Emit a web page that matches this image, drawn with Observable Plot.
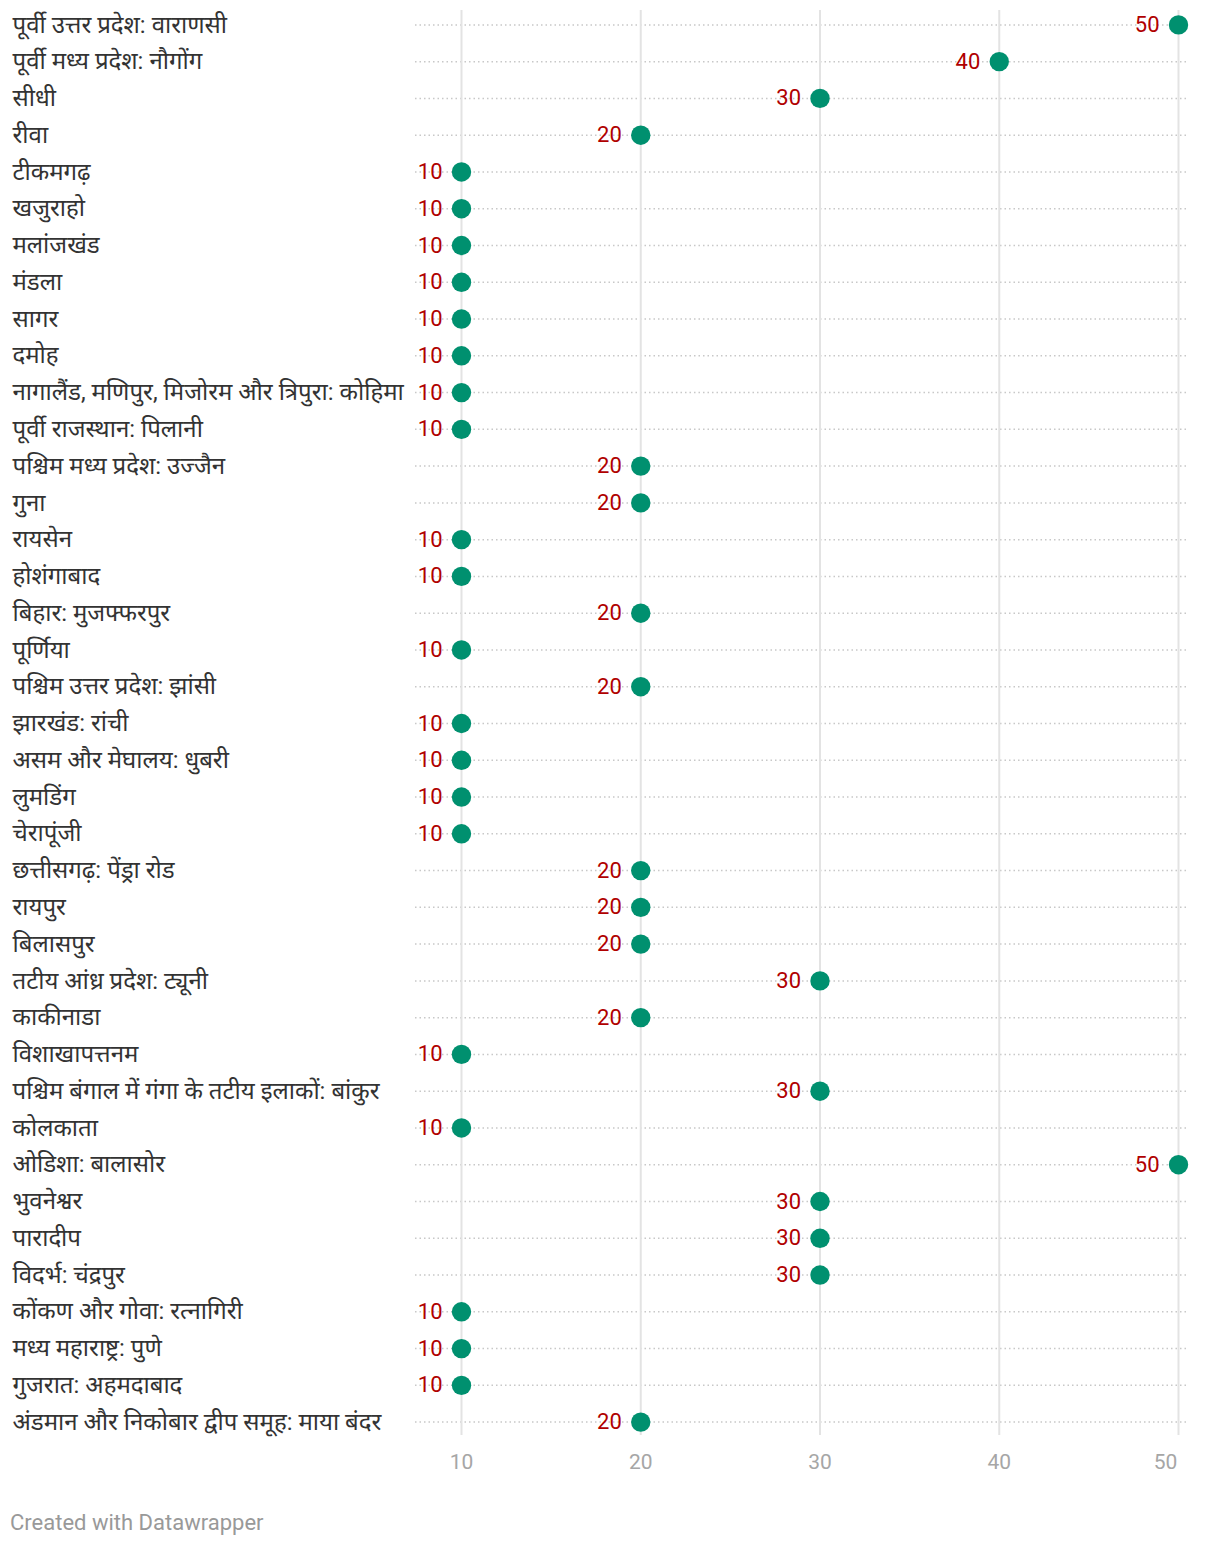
<!DOCTYPE html>
<html>
<head>
<meta charset="utf-8">
<script src="https://cdn.jsdelivr.net/npm/d3@7"></script>
<script src="https://cdn.jsdelivr.net/npm/@observablehq/plot@0.6"></script>
<style>
  html, body { margin: 0; padding: 0; background: #fff; }
  #chart svg { display: block; }
  #footer { font-family: Roboto, sans-serif; font-size: 22px; color: #999; margin: 16px 0 0 10px; line-height: 24px; }
</style>
</head>
<body>
<div id="chart"></div>
<div id="footer">Created with Datawrapper</div>
<script>
const stations = [
  "पूर्वी उत्तर प्रदेश: वाराणसी",
  "पूर्वी मध्य प्रदेश: नौगोंग",
  "सीधी",
  "रीवा",
  "टीकमगढ़",
  "खजुराहो",
  "मलांजखंड",
  "मंडला",
  "सागर",
  "दमोह",
  "नागालैंड, मणिपुर, मिजोरम और त्रिपुरा: कोहिमा",
  "पूर्वी राजस्थान: पिलानी",
  "पश्चिम मध्य प्रदेश: उज्जैन",
  "गुना",
  "रायसेन",
  "होशंगाबाद",
  "बिहार: मुजफ्फरपुर",
  "पूर्णिया",
  "पश्चिम उत्तर प्रदेश: झांसी",
  "झारखंड: रांची",
  "असम और मेघालय: धुबरी",
  "लुमडिंग",
  "चेरापूंजी",
  "छत्तीसगढ़: पेंड्रा रोड",
  "रायपुर",
  "बिलासपुर",
  "तटीय आंध्र प्रदेश: ट्यूनी",
  "काकीनाडा",
  "विशाखापत्तनम",
  "पश्चिम बंगाल में गंगा के तटीय इलाकों: बांकुर",
  "कोलकाता",
  "ओडिशा: बालासोर",
  "भुवनेश्वर",
  "पारादीप",
  "विदर्भ: चंद्रपुर",
  "कोंकण और गोवा: रत्नागिरी",
  "मध्य महाराष्ट्र: पुणे",
  "गुजरात: अहमदाबाद",
  "अंडमान और निकोबार द्वीप समूह: माया बंदर"
];
const values = [50, 40, 30, 20, 10, 10, 10, 10, 10, 10, 10, 10, 20, 20, 10, 10, 20, 10, 20, 10, 10, 10, 10, 20, 20, 20, 30, 20, 10, 30, 10, 50, 30, 30, 30, 10, 10, 10, 20];
const xTicks = [10, 20, 30, 40, 50];

const data = stations.map((s, i) => ({station: s, value: values[i]}));

const chart = Plot.plot({
  width: 1220,
  height: 1495,
  marginLeft: 415,
  marginRight: 34,
  marginTop: 6,
  marginBottom: 55,
  style: {fontFamily: "Roboto, 'Noto Sans Devanagari', 'Noto Sans', sans-serif", background: "#fff"},
  x: {domain: [7.434, 50.446], ticks: xTicks},
  y: {domain: stations, type: "band", padding: 0, round: false},
  marks: [
    Plot.gridY({stroke: "#c8c8c8", strokeOpacity: 1, strokeWidth: 1.5, strokeDasharray: "1.5,3"}),
    Plot.gridX(xTicks, {stroke: "#e3e3e3", strokeOpacity: 1, strokeWidth: 2, insetTop: 4, insetBottom: 5}),
    Plot.axisY({anchor: "left", tickSize: 0, tickPadding: 403, textAnchor: "start", fontSize: 24, fill: "#333", label: null}),
    Plot.axisX(xTicks.slice(0, 4), {anchor: "bottom", tickSize: 0, tickPadding: 14, fontSize: 21, fill: "#a6a6a6", label: null}),
    Plot.axisX(xTicks.slice(4), {anchor: "bottom", tickSize: 0, tickPadding: 14, fontSize: 21, fill: "#a6a6a6", label: null, dx: -13}),
    Plot.dot(data, {x: "value", y: "station", r: 9.7, fill: "#00906f", stroke: null}),
    Plot.text(data, {x: "value", y: "station", text: d => String(d.value), textAnchor: "end", dx: -19, fontSize: 22, fill: "#b00000"})
  ]
});
document.getElementById("chart").appendChild(chart);
</script>
</body>
</html>
